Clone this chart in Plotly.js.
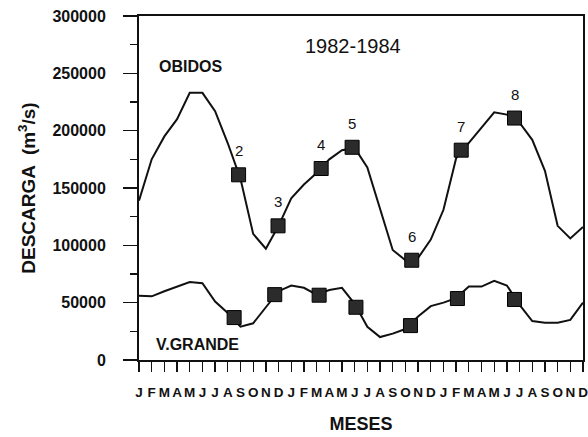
<!DOCTYPE html>
<html>
<head>
<meta charset="utf-8">
<script src="https://cdn.plot.ly/plotly-3.0.1.min.js"></script>
<style>html,body{margin:0;padding:0;background:#fff;}#chart{width:588px;height:437px;}</style>
</head>
<body>
<div id="chart"></div>
<script>
// Month tick labels (Jan 1982 .. Dec 1984)
var monthTicks = ['J','F','M','A','M','J','J','A','S','O','N','D',
                  'J','F','M','A','M','J','J','A','S','O','N','D',
                  'J','F','M','A','M','J','J','A','S','O','N','D'];
var monthIndex = [0,1,2,3,4,5,6,7,8,9,10,11,12,13,14,15,16,17,18,19,20,21,22,23,
                  24,25,26,27,28,29,30,31,32,33,34,35];

// Monthly discharge (m3/s)
var obidosFlow = [139000,175000,195000,210000,233000,233000,217000,189000,158000,110000,97000,117000,
                  141000,153000,163000,175000,183000,185000,168000,131000,96000,87000,89000,105000,
                  131000,176000,189000,202000,216000,214000,207000,192000,165000,117000,106000,116000];
var vgrandeFlow = [56000,55500,60000,64000,68000,67000,51000,41000,29000,32000,46000,60000,
                   65000,63000,57000,61000,63000,49000,29000,20000,23000,27000,38000,47000,
                   50000,54000,64000,64000,69000,65000,48000,34000,32500,32500,35000,50000];

// Sampling points (cruises 2-8)
var cruiseLabels = ['2','3','4','5','6','7','8'];
var obidosMarkX = [7.85, 10.96, 14.36, 16.8, 21.5, 25.4, 29.6];
var obidosMarkY = [161500, 117000, 167000, 185500, 87000, 183000, 211000];
var vgrandeMarkX = [7.5, 10.7, 14.2, 17.1, 21.4, 25.1, 29.6];
var vgrandeMarkY = [37000, 57000, 56500, 46000, 30000, 53600, 52800];

var ink = '#111111';
var font = 'Liberation Sans, Arial, Helvetica, sans-serif';

var markerStyle = {symbol: 'square', size: 14, color: '#2b2b2b', line: {color: '#000', width: 1}};

var traces = [
  {x: monthIndex, y: obidosFlow, mode: 'lines', line: {color: ink, width: 2}, hoverinfo: 'skip'},
  {x: monthIndex, y: vgrandeFlow, mode: 'lines', line: {color: ink, width: 2}, hoverinfo: 'skip'},
  {x: obidosMarkX, y: obidosMarkY, mode: 'markers', marker: markerStyle},
  {x: vgrandeMarkX, y: vgrandeMarkY, mode: 'markers', marker: markerStyle}
];

var annotations = [];
for (var i = 0; i < cruiseLabels.length; i++) {
  annotations.push({x: obidosMarkX[i], y: obidosMarkY[i], text: cruiseLabels[i], showarrow: false,
    yshift: 24, font: {family: font, size: 15, color: ink}});
}
annotations.push({x: 4.09, y: 255600, text: 'OBIDOS', showarrow: false,
  font: {family: font, size: 16, color: ink, weight: 'bold'}});
annotations.push({x: 4.64, y: 13900, text: 'V.GRANDE', showarrow: false,
  font: {family: font, size: 16, color: ink, weight: 'bold'}});
annotations.push({x: 16.9, y: 273900, text: '1982-1984', showarrow: false,
  font: {family: font, size: 20, color: ink}});

var layout = {
  width: 588, height: 437,
  margin: {l: 139, r: 5, t: 16, b: 77},
  paper_bgcolor: '#fff', plot_bgcolor: '#fff',
  showlegend: false,
  font: {family: font, color: ink},
  xaxis: {
    range: [0, 35], tickvals: monthIndex, ticktext: monthTicks, tickangle: 0,
    ticks: 'outside', ticklen: 10, tickwidth: 1.3, tickcolor: ink,
    showline: true, linecolor: ink, linewidth: 2, mirror: true,
    showgrid: false, zeroline: false, ticklabelstandoff: 9,
    ticklabeloverflow: 'allow',
    tickfont: {family: font, size: 13.5, color: ink, weight: 'bold'},
    title: {text: 'MESES', standoff: 18, font: {family: font, size: 18, color: ink, weight: 'bold'}},
    automargin: false
  },
  yaxis: {
    range: [0, 300000], tickvals: [0,50000,100000,150000,200000,250000,300000],
    ticktext: ['0','50000','100000','150000','200000','250000','300000'],
    ticks: 'outside', ticklen: 14, tickwidth: 1.3, tickcolor: ink,
    minor: {dtick: 25000, ticks: 'outside', ticklen: 7, tickwidth: 1.3, tickcolor: ink, showgrid: false},
    showline: true, linecolor: ink, linewidth: 2, mirror: true,
    showgrid: false, zeroline: false, ticklabelstandoff: 14,
    ticklabeloverflow: 'allow',
    tickfont: {family: font, size: 16, color: ink, weight: 'bold'},
    title: {text: 'DESCARGA  (m<sup>3</sup>/s)', standoff: 12, font: {family: font, size: 19, color: ink, weight: 'bold'}},
    automargin: false
  },
  annotations: annotations
};

Plotly.newPlot('chart', traces, layout, {staticPlot: true, displayModeBar: false});
</script>
</body>
</html>
